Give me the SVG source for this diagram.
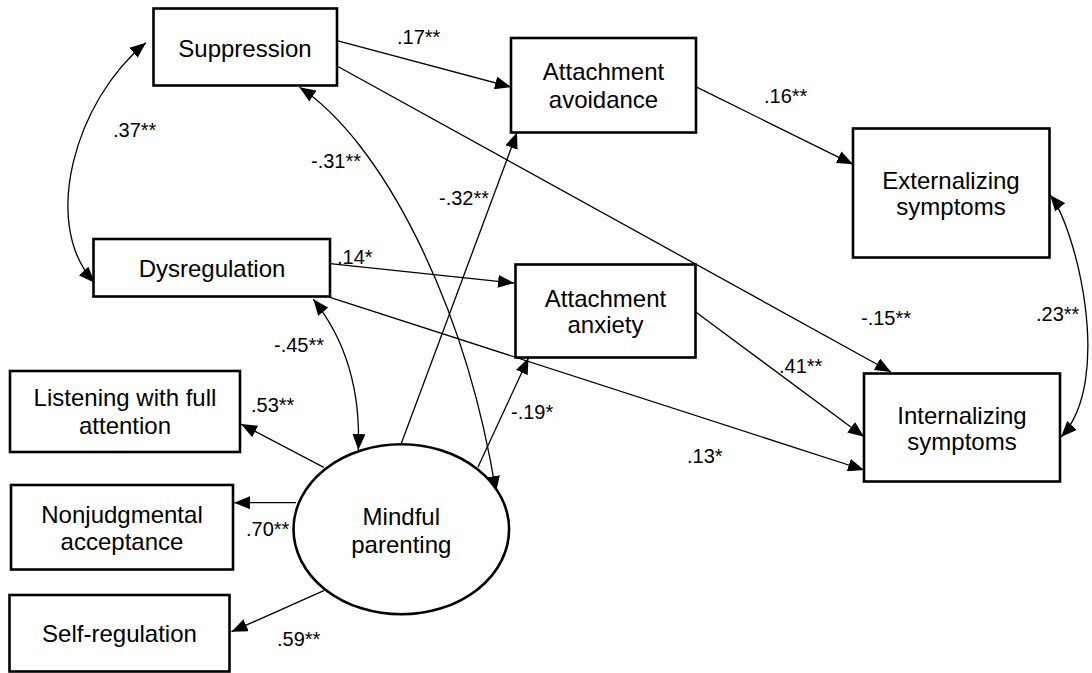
<svg xmlns="http://www.w3.org/2000/svg" width="1092" height="673" viewBox="0 0 1092 673">
<style>
.box{fill:#fff;stroke:#000;stroke-width:2.6}
.nt{font-family:"Liberation Sans",Arial,sans-serif;font-size:24px;fill:#000;text-anchor:middle}
.lb{font-family:"Liberation Sans",Arial,sans-serif;font-size:20px;fill:#000}
.c{fill:none;stroke:#000;stroke-width:1.3}
</style>
<defs>
<marker id="ah" markerUnits="userSpaceOnUse" markerWidth="17" markerHeight="13" refX="16" refY="6.5" orient="auto-start-reverse" viewBox="0 0 17 13">
<path d="M0,0 L16,6.5 L0,13 z" fill="#000"/>
</marker>
</defs>
<rect width="1092" height="673" fill="#fff"/>
<g id="connectors">
<path class="c" d="M337,40.7 L511,87" marker-end="url(#ah)"/>
<path class="c" d="M337,66 L891,372" marker-end="url(#ah)"/>
<path class="c" d="M695.7,86.7 L853,164.3" marker-end="url(#ah)"/>
<path class="c" d="M330,263.7 L514,283" marker-end="url(#ah)"/>
<path class="c" d="M330,297.3 L864,470" marker-end="url(#ah)"/>
<path class="c" d="M695.7,312 L864,436.7" marker-end="url(#ah)"/>
<path class="c" d="M401,444.3 L517,132.5" marker-end="url(#ah)"/>
<path class="c" d="M478,467 L528.5,358" marker-end="url(#ah)"/>
<path class="c" d="M323.8,467.3 L241,424" marker-end="url(#ah)"/>
<path class="c" d="M296,502.7 L234,502.7" marker-end="url(#ah)"/>
<path class="c" d="M323.8,590.7 L231.5,631.7" marker-end="url(#ah)"/>
<path class="c" d="M146,42.7 C75,100 40,225 94.7,282.7" marker-start="url(#ah)" marker-end="url(#ah)"/>
<path class="c" d="M299.5,87.3 C380,140 465,300 496,492" marker-start="url(#ah)" marker-end="url(#ah)"/>
<path class="c" d="M313.3,299.3 Q362,360 358.3,450" marker-start="url(#ah)" marker-end="url(#ah)"/>
<path class="c" d="M1050,195 C1075,225 1115,380 1061,437" marker-start="url(#ah)" marker-end="url(#ah)"/>
<text class="lb" x="397" y="44">.17**</text>
<text class="lb" x="113" y="137">.37**</text>
<text class="lb" x="311" y="168">-.31**</text>
<text class="lb" x="439" y="205">-.32**</text>
<text class="lb" x="337" y="264">.14*</text>
<text class="lb" x="764" y="103">.16**</text>
<text class="lb" x="861" y="325">-.15**</text>
<text class="lb" x="1036" y="321">.23**</text>
<text class="lb" x="779" y="373">.41**</text>
<text class="lb" x="687" y="463">.13*</text>
<text class="lb" x="274" y="352">-.45**</text>
<text class="lb" x="251" y="412">.53**</text>
<text class="lb" x="511" y="419">-.19*</text>
<text class="lb" x="246" y="536">.70**</text>
<text class="lb" x="277" y="646">.59**</text>
</g>
<g id="suppression"><rect class="box" x="153.5" y="8.5" width="183.5" height="77"/><text class="nt" x="245" y="57">Suppression</text></g>
<g id="attachment-avoidance"><rect class="box" x="511" y="38" width="185" height="94.5"/><text class="nt" x="603.5" y="80">Attachment</text><text class="nt" x="603.5" y="107.5">avoidance</text></g>
<g id="externalizing"><rect class="box" x="853" y="128.5" width="196.5" height="129"/><text class="nt" x="951" y="188.5">Externalizing</text><text class="nt" x="951" y="215">symptoms</text></g>
<g id="dysregulation"><rect class="box" x="93.5" y="239" width="236.5" height="57.5"/><text class="nt" x="212" y="277">Dysregulation</text></g>
<g id="attachment-anxiety"><rect class="box" x="515.5" y="264.5" width="180" height="93"/><text class="nt" x="605.5" y="306.5">Attachment</text><text class="nt" x="605.5" y="333">anxiety</text></g>
<g id="internalizing"><rect class="box" x="864" y="373.5" width="196" height="108"/><text class="nt" x="962" y="423.5">Internalizing</text><text class="nt" x="962" y="450">symptoms</text></g>
<g id="listening"><rect class="box" x="10" y="371" width="230" height="81"/><text class="nt" x="125" y="406">Listening with full</text><text class="nt" x="125" y="433.5">attention</text></g>
<g id="nonjudgmental"><rect class="box" x="11" y="485" width="222" height="84.5"/><text class="nt" x="122" y="522.5">Nonjudgmental</text><text class="nt" x="122" y="550">acceptance</text></g>
<g id="self-regulation"><rect class="box" x="9.5" y="595" width="220" height="76.5"/><text class="nt" x="119.5" y="641.5">Self-regulation</text></g>
<g id="mindful-parenting"><ellipse class="box" cx="401.3" cy="529.3" rx="107.8" ry="85"/><text class="nt" x="401.3" y="525">Mindful</text><text class="nt" x="401.3" y="552.5">parenting</text></g>
</svg>
